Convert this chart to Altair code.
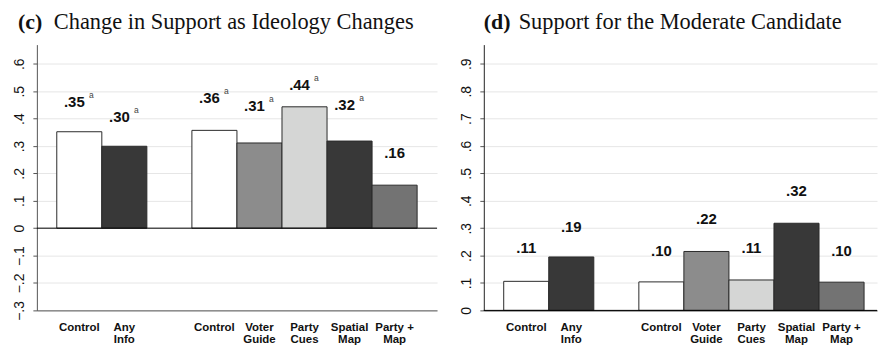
import json
import altair as alt
import pandas as pd

# ---------------- data ----------------
tick_labels = ["Control", "Any\nInfo", "Control", "Voter\nGuide", "Party\nCues", "Spatial\nMap", "Party +\nMap"]
treatments = ["Control", "Any Info", "Control", "Voter Guide", "Party Cues", "Spatial Map", "Party + Map"]
slot_keys = ["s0", "s1", "s2", "s3", "s4", "s5", "s6"]
slot_domain = ["s0", "s1", "gap", "s2", "s3", "s4", "s5", "s6"]  # empty slot separates pooled vs arms

c_values = [0.352, 0.299, 0.357, 0.311, 0.443, 0.318, 0.157]
c_labels = [".35", ".30", ".36", ".31", ".44", ".32", ".16"]
c_sig = ["a", "a", "a", "a", "a", "a", ""]
c_label_at = [0.459, 0.405, 0.476, 0.446, 0.523, 0.450, 0.276]

d_values = [0.106, 0.195, 0.104, 0.215, 0.111, 0.318, 0.103]
d_labels = [".11", ".19", ".10", ".22", ".11", ".32", ".10"]
d_sig = ["", "", "", "", "", "", ""]
d_label_at = [0.226, 0.305, 0.215, 0.334, 0.226, 0.436, 0.215]

c_ticks = [-0.3, -0.2, -0.1, 0.0, 0.1, 0.2, 0.3, 0.4, 0.5, 0.6]
d_ticks = [0.0, 0.1, 0.2, 0.3, 0.4, 0.5, 0.6, 0.7, 0.8, 0.9]

fill_domain = ["Control", "Any Info", "Voter Guide", "Party Cues", "Spatial Map", "Party + Map"]
fill_range = ["#ffffff", "#383838", "#8c8c8c", "#d5d6d5", "#383838", "#737373"]

SANS = "Liberation Sans"
SERIF = "Liberation Serif"

label_expr_x = "[" + ",".join(json.dumps(t.split("\n")) for t in tick_labels) + "][indexof(" + \
    json.dumps(slot_keys) + ", datum.value)]"
label_expr_y = "abs(datum.value) < 1e-9 ? '0' : replace(format(datum.value, '.1f'), '0.', '.')"


def panel(values, labels, sig, label_at, ydomain, ticks, width, pad_outer, align,
          letter, title, letter_x, title_x, axis_color):
    df = pd.DataFrame({
        "slot": slot_keys,
        "treatment": treatments,
        "value": values,
        "label": labels,
        "sig": sig,
        "label_at": label_at,
    })
    base = alt.Chart(df)
    xscale = alt.Scale(domain=slot_domain, paddingInner=0, paddingOuter=pad_outer, align=align)
    xaxis = alt.Axis(values=slot_keys, labelExpr=label_expr_x, title=None, ticks=False,
                     tickSize=0, labelPadding=11, labelAngle=0, labelFont=SANS,
                     labelFontSize=11.5, labelFontWeight="bold", labelColor="#111",
                     labelLineHeight=12, domainColor=axis_color, domainWidth=1,
                     labelBaseline="top", grid=False, labelOverlap=False)
    yscale = alt.Scale(domain=ydomain, nice=False, zero=False)
    yaxis = alt.Axis(values=ticks, labelExpr=label_expr_y, title=None, labelAngle=270,
                     labelAlign="center", labelBaseline="bottom", labelFont=SANS,
                     labelFontSize=14, labelColor="#111", labelPadding=6, tickSize=4,
                     tickColor="#555", domainColor=axis_color, domainWidth=1,
                     grid=True, gridColor="#e6e6e6", gridWidth=1, labelOverlap=False,
                     labelBound=False, minExtent=23, maxExtent=23)
    x = alt.X("slot:N", scale=xscale, axis=xaxis)
    bars = base.mark_bar(stroke="#2a2a2a", strokeWidth=1).encode(
        x=x, y=alt.Y("value:Q", scale=yscale, axis=yaxis),
        color=alt.Color("treatment:N", scale=alt.Scale(domain=fill_domain, range=fill_range), legend=None),
    )
    zero = alt.Chart(pd.DataFrame({"zero": [0.0]})).mark_rule(color="#000", strokeWidth=1).encode(
        y=alt.Y("zero:Q", scale=yscale, axis=yaxis))
    ys = alt.Y("label_at:Q", scale=yscale, axis=yaxis)
    txt_plain = base.transform_filter("datum.sig == ''").mark_text(
        font=SANS, fontSize=15, fontWeight="bold", color="#111", baseline="middle").encode(
        x=x, y=ys, text="label:N")
    txt_sig = base.transform_filter("datum.sig != ''").mark_text(
        font=SANS, fontSize=15, fontWeight="bold", color="#111", baseline="middle", dx=-5).encode(
        x=x, y=ys, text="label:N")
    sup = base.transform_filter("datum.sig != ''").mark_text(
        font=SANS, fontSize=8.5, color="#444", baseline="middle", dx=12, dy=-7).encode(
        x=x, y=ys, text="sig:N")
    t1 = alt.Chart(pd.DataFrame({"t": [letter]})).mark_text(
        font=SERIF, fontSize=22, fontWeight="bold", align="left", baseline="alphabetic", color="#111").encode(
        text="t:N", x=alt.value(letter_x), y=alt.value(-16))
    t2 = alt.Chart(pd.DataFrame({"t": [title]})).mark_text(
        font=SERIF, fontSize=22.5, align="left", baseline="alphabetic", color="#111").encode(
        text="t:N", x=alt.value(title_x), y=alt.value(-16))
    return alt.layer(bars, zero, txt_plain, txt_sig, sup, t1, t2).properties(width=width, height=267)


left = panel(c_values, c_labels, c_sig, c_label_at, [-0.3, 0.67], c_ticks, 402, 0.442, 0.5,
             "(c)", "Change in Support as Ideology Changes", -19, 17, "#555")
right = panel(d_values, d_labels, d_sig, d_label_at, [0.0, 0.97], d_ticks, 395, 0.3646, 0.606,
              "(d)", "Support for the Moderate Candidate", 0, 35, "#222")

chart = alt.hconcat(left, right, spacing=22).properties(
    padding={"left": 5, "top": 2, "right": 0, "bottom": 0}
).configure_view(stroke=None).configure_concat(spacing=22).configure_axis(labelOverlap=False)

chart.save("out.html", embed_options={"renderer": "svg", "actions": False})
